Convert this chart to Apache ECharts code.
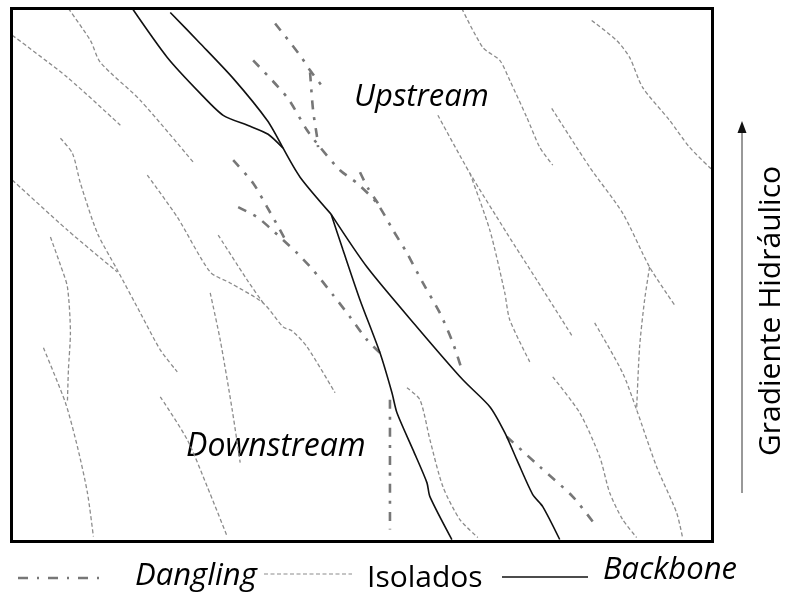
<!DOCTYPE html>
<html>
<head>
<meta charset="utf-8">
<script src="https://cdn.jsdelivr.net/npm/echarts@6/dist/echarts.min.js"></script>
<style>html,body{margin:0;padding:0;background:#fff;}#c{width:789px;height:594px;}</style>
</head>
<body>
<div id="c"></div>
<script>
// Map coordinates (x to the right, y downward)
const backbone1 = [[132,8],[167,57],[200,93],[223,115],[250,126],[268,134],[283,148]];
const backbone2 = [[170,12],[200,43],[233,78],[267,120],[283,148]];
const backbone3 = [[283,148],[300,177],[331,214]];
const backbone4 = [[331,214],[343,250],[360,300],[380,353],[392,393],[397,413],[413,450],[427,483],[430,497],[452,540]];
const backbone5 = [[331,214],[367,267],[417,327],[463,380],[490,407],[505,433],[517,460],[533,495],[543,507],[560,540]];

const dangling1 = [[275,23],[300,55],[310,70],[323,87]];
const dangling2 = [[310,72],[313,110],[317,137],[318,147]];
const dangling3 = [[253,60],[287,97],[307,130],[320,147],[340,170],[357,183],[377,203],[393,230],[407,253],[423,283],[440,313],[453,343],[462,370]];
const dangling4 = [[360,172],[368,188],[378,203]];
const dangling5 = [[233,160],[253,183],[267,207],[280,230],[287,243]];
const dangling6 = [[238,207],[257,217],[270,228],[283,240],[297,253],[313,270],[333,295],[350,317],[367,340],[380,353]];
const dangling7 = [[390,400],[390,470],[390,530]];
const dangling8 = [[507,437],[540,467],[573,497],[593,522]];

const isolado1 = [[12,35],[67,77],[120,125]];
const isolado2 = [[68,8],[90,40],[100,62],[140,100],[193,162]];
const isolado3 = [[60,138],[72,153],[80,183],[97,233],[117,270],[140,313],[160,350],[177,372]];
const isolado4 = [[12,180],[67,230],[117,272]];
const isolado5 = [[50,237],[60,265],[67,287],[70,333],[68,370],[67,402]];
const isolado6 = [[43,348],[65,403],[77,447],[87,493],[93,537]];
const isolado7 = [[147,175],[177,217],[210,272],[230,283],[263,303],[283,327],[292,331],[307,347],[335,393]];
const isolado8 = [[218,235],[247,280],[263,303]];
const isolado9 = [[210,293],[220,340],[232,410],[240,463]];
const isolado10 = [[160,397],[187,440],[207,487],[227,537]];
const isolado11 = [[462,8],[483,47],[500,60],[510,80],[527,117],[540,147],[553,165]];
const isolado12 = [[592,20],[617,40],[630,57],[643,87],[670,120],[690,147],[713,170]];
const isolado13 = [[438,115],[470,173],[507,233],[537,280],[573,337]];
const isolado14 = [[470,173],[490,230],[505,293],[510,320],[530,362]];
const isolado15 = [[552,108],[590,167],[623,213],[650,267],[675,305]];
const isolado16 = [[650,267],[645,300],[640,347],[637,410]];
const isolado17 = [[595,323],[623,373],[637,410],[657,467],[677,513],[683,538]];
const isolado18 = [[553,377],[580,413],[600,457],[610,493],[623,520],[637,538]];
const isolado19 = [[407,388],[420,400],[430,440],[443,487],[460,520],[478,538]];

const backboneLines = [backbone1, backbone2, backbone3, backbone4, backbone5];
const danglingLines = [dangling1, dangling2, dangling3, dangling4, dangling5, dangling6, dangling7, dangling8];
const isoladoLines = [isolado1, isolado2, isolado3, isolado4, isolado5, isolado6, isolado7, isolado8, isolado9, isolado10,
  isolado11, isolado12, isolado13, isolado14, isolado15, isolado16, isolado17, isolado18, isolado19];

const labels = { up: 'Upstream', down: 'Downstream', gradient: 'Gradiente Hidráulico',
  dangling: 'Dangling', isolados: 'Isolados', backbone: 'Backbone' };

const FONT = '"Open Sans", sans-serif';
const styles = {
  backbone: { color: '#111', width: 1.6, type: 'solid' },
  dangling: { color: '#777', width: 2.6, type: [9, 8, 3, 8] },
  isolados: { color: '#8c8c8c', width: 1.3, type: [4, 2.5] }
};

const series = [];
function add(lines, key) {
  lines.forEach(function (d, i) {
    series.push({
      name: key + i, type: 'line', data: d, symbol: 'none', smooth: 0.25,
      silent: true, animation: false, z: key === 'backbone' ? 4 : 3,
      lineStyle: styles[key]
    });
  });
}
add(isoladoLines, 'isolados');
add(danglingLines, 'dangling');
add(backboneLines, 'backbone');

function txt(x, y, s, font) {
  return { type: 'text', x: x, y: y, style: { text: s, font: font, fill: '#000', align: 'left', verticalAlign: 'middle' } };
}

const chart = echarts.init(document.getElementById('c'));
chart.setOption({
  backgroundColor: '#fff',
  animation: false,
  grid: { left: 11.5, right: 76.5, top: 8.5, bottom: 52.5, show: true, borderColor: '#000', borderWidth: 3, backgroundColor: 'transparent', z: 5 },
  xAxis: { type: 'value', min: 11, max: 713, show: false },
  yAxis: { type: 'value', min: 8, max: 542, inverse: true, show: false },
  series: series,
  graphic: [
    txt(354, 97, labels.up, 'italic 31px ' + FONT),
    txt(186, 447, labels.down, 'italic 32px ' + FONT),
    { type: 'line', shape: { x1: 742, y1: 493, x2: 742, y2: 132 }, style: { stroke: '#333', lineWidth: 1 } },
    { type: 'polygon', shape: { points: [[742, 121], [737.5, 133], [746.5, 133]] }, style: { fill: '#111' } },
    { type: 'text', x: 771, y: 311, rotation: Math.PI / 2,
      style: { text: labels.gradient, font: '30px ' + FONT, fill: '#000', align: 'center', verticalAlign: 'middle' } },
    // legend
    { type: 'line', shape: { x1: 18, y1: 578, x2: 100, y2: 578 }, style: { stroke: styles.dangling.color, lineWidth: 2.6, lineDash: [10, 9, 2, 9] } },
    txt(135, 576, labels.dangling, 'italic 31px ' + FONT),
    { type: 'line', shape: { x1: 264, y1: 574, x2: 352, y2: 574 }, style: { stroke: styles.isolados.color, lineWidth: 1.2, lineDash: [4, 2.5] } },
    txt(367, 578, labels.isolados, '30px ' + FONT),
    { type: 'line', shape: { x1: 502, y1: 577, x2: 588, y2: 577 }, style: { stroke: '#111', lineWidth: 1.6 } },
    txt(603, 570, labels.backbone, 'italic 31px ' + FONT)
  ]
});
</script>
</body>
</html>
